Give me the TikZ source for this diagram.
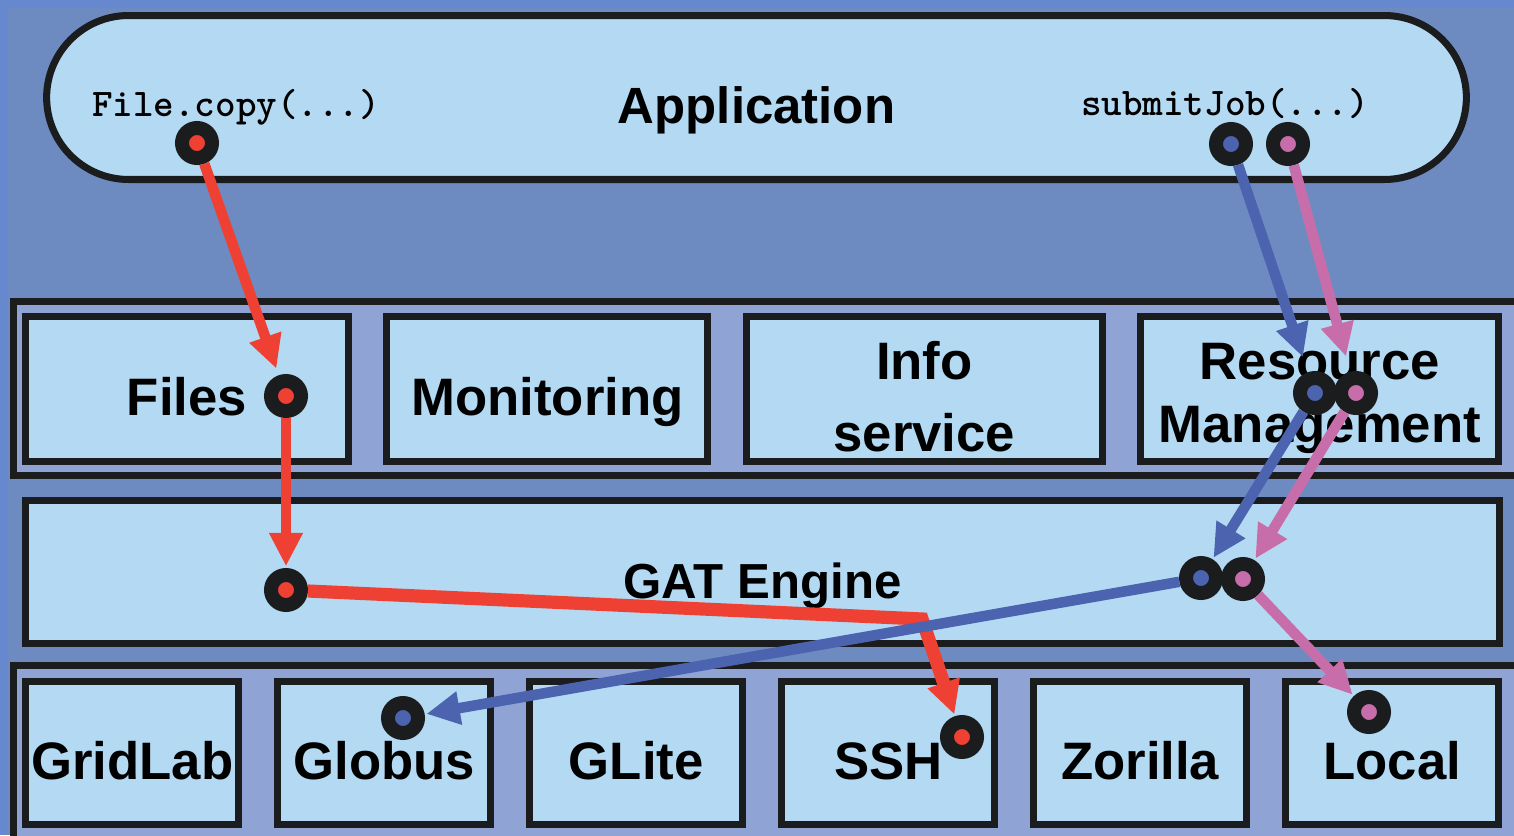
\documentclass[tikz,border=0pt]{standalone}
\usepackage{fontspec}
\setmainfont{Liberation Sans}
\usetikzlibrary{calc,positioning,arrows.meta}
\definecolor{bgblue}{HTML}{6D8BC1}
\definecolor{edgeblue}{HTML}{6688CE}
\definecolor{boxblue}{HTML}{B3DAF2}
\definecolor{layerblue}{HTML}{8FA3D4}
\definecolor{ink}{HTML}{1B1C1E}
\definecolor{callred}{HTML}{EE4033}
\definecolor{callblue}{HTML}{4C63B0}
\definecolor{callpink}{HTML}{C76EAA}
\tikzstyle{line} = [draw, line width=6pt, shorten >=1pt, -{Triangle[length=19pt,width=18pt]}]

\begin{document}
\begin{tikzpicture}[
	x=0.02cm, y=-0.02cm,
	node distance=0.63cm,
	component/.style={
		rectangle,
		draw=ink,
		line width=4pt,
		fill=boxblue,
		minimum height=2.86cm,
		inner sep=0pt,
		align=center,
		text height=1.06cm,
		text depth=0pt,
		font=\bfseries\fontsize{30}{36}\selectfont,
	},
	layer/.style={
		draw=ink,
		line width=4pt,
		fill=layerblue,
	},
	call/.style={
		inner sep=0pt,
		font=\ttfamily\bfseries\fontsize{22.3}{24}\selectfont,
	},
	port/.style={
		circle,
		draw=ink,
		line width=0.28cm,
		minimum size=0.6cm,
		inner sep=0pt,
		fill=#1,
	},
]
	\useasboundingbox (0,0) rectangle (1514,835);
	\clip (0,0) rectangle (1514,835);
	\fill[edgeblue] (0,0) rectangle (1514,835);
	\fill[bgblue] (8,8) rectangle (1514,835);

	\node (app) [component, rounded corners=1.64cm, minimum width=28.4cm,
		minimum height=3.28cm, font=\bfseries\fontsize{29}{36}\selectfont]
		at (756.5,97.5) {Application};
	\node (copycall) [call] at (236,107) {File.copy(...)};
	\node (submitcall) [call] at (1225,104) {submitJob(...)};

	\draw [layer] (13.5,301.5) rectangle (1530,475.5);
	\node (files) [component,anchor=west,minimum height=2.9cm,minimum width=6.46cm]
		at (22,389) {Files};
	\node (monitoring) [component,minimum height=2.9cm,minimum width=6.42cm,right=of files]
		{Monitoring};
	\node (info) [component,minimum height=2.9cm,minimum width=7.12cm,text height=2.5cm,right=of monitoring]
		{Info\\[5pt]service};
	\node (resources) [component,minimum height=2.9cm,minimum width=7.16cm,text height=2.32cm,text depth=0.16cm,right=of info]
		{Resource\\Management};

	\node (gat) [component,minimum width=29.48cm,font=\bfseries\fontsize{28}{36}\selectfont]
		at (762.5,572) {GAT Engine};

	\draw [layer] (13.5,665.5) rectangle (1530,860);
	\node (gridlab) [component,anchor=west,minimum width=4.27cm] at (22,753) {GridLab};
	\node (globus) [component,minimum width=4.27cm,right=of gridlab] {Globus};
	\node (glite) [component,minimum width=4.27cm,right=of globus] {GLite};
	\node (ssh) [component,minimum width=4.27cm,right=of glite] {SSH};
	\node (zorilla) [component,minimum width=4.27cm,right=of ssh] {Zorilla};
	\node (local) [component,minimum width=4.27cm,right=of zorilla] {Local};

	\node (copyport) [port=callred] at (197,143) {};
	\node (submitportb) [port=callblue] at (1231,144) {};
	\node (submitportp) [port=callpink] at (1288,144) {};
	\node (filesport) [port=callred] at (286,396) {};
	\node (resportb) [port=callblue] at (1315,393) {};
	\node (resportp) [port=callpink] at (1356,393) {};
	\node (gatportr) [port=callred] at (286,590) {};
	\node (gatportb) [port=callblue] at (1201,578) {};
	\node (gatportp) [port=callpink] at (1243,579) {};
	\node (globusport) [port=callblue] at (403,718) {};
	\node (sshport) [port=callred] at (962,737) {};
	\node (localport) [port=callpink] at (1369,712) {};
	\coordinate (redbend) at (922,619);

	\draw [line,color=callred,shorten >=4pt] (copyport) -- (filesport);
	\draw [line,color=callred] (filesport) -- (gatportr);
	\draw [line,color=callred,line width=7.5pt] (gatportr) -- (redbend) -- (sshport);
	\draw [line,color=callblue,shorten >=9pt] (submitportb) -- (resportb);
	\draw [line,color=callpink,shorten >=9pt] (submitportp) -- (resportp);
	\draw [line,color=callblue] (resportb) -- (gatportb);
	\draw [line,color=callpink] (resportp) -- (gatportp);
	\draw [line,color=callblue] (gatportb) -- (globusport);
	\draw [line,color=callpink] (gatportp) -- (localport);

\end{tikzpicture}
\end{document}
